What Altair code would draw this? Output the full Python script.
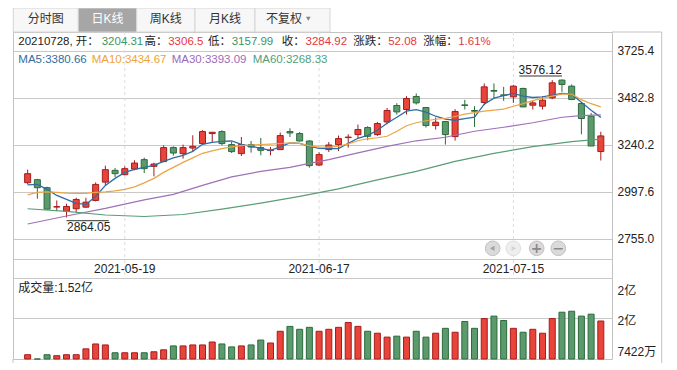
import altair as alt
import pandas as pd

# ---------------- data ----------------
DATES = [
    "2021-04-30", "2021-05-06", "2021-05-07", "2021-05-10", "2021-05-11",
    "2021-05-12", "2021-05-13", "2021-05-14", "2021-05-17", "2021-05-18",
    "2021-05-19", "2021-05-20", "2021-05-21", "2021-05-24", "2021-05-25",
    "2021-05-26", "2021-05-27", "2021-05-28", "2021-05-31", "2021-06-01",
    "2021-06-02", "2021-06-03", "2021-06-04", "2021-06-07", "2021-06-08",
    "2021-06-09", "2021-06-10", "2021-06-11", "2021-06-15", "2021-06-16",
    "2021-06-17", "2021-06-18", "2021-06-21", "2021-06-22", "2021-06-23",
    "2021-06-24", "2021-06-25", "2021-06-28", "2021-06-29", "2021-06-30",
    "2021-07-01", "2021-07-02", "2021-07-05", "2021-07-06", "2021-07-07",
    "2021-07-08", "2021-07-09", "2021-07-12", "2021-07-13", "2021-07-14",
    "2021-07-15", "2021-07-16", "2021-07-19", "2021-07-20", "2021-07-21",
    "2021-07-22", "2021-07-23", "2021-07-26", "2021-07-27", "2021-07-28",
]
OPEN = [
    3043.6, 3059.1, 3017.8, 2918.0, 2896.7, 2909.1, 2917.4, 2952.1, 3046.7, 3107.3,
    3085.0, 3114.0, 3162.6, 3127.9, 3152.3, 3224.7, 3193.6, 3222.6, 3245.4, 3297.1,
    3307.4, 3240.2, 3193.6, 3240.2, 3224.7, 3209.2, 3214.3, 3307.4, 3297.1, 3258.8,
    3134.7, 3214.3, 3240.2, 3276.4, 3291.9, 3328.1, 3291.9, 3357.1, 3441.9, 3421.3,
    3488.5, 3431.6, 3338.5, 3359.2, 3281.6, 3445.1, 3416.1, 3457.5, 3519.5, 3496.8,
    3486.4, 3529.9, 3443.5, 3438.3, 3481.3, 3573.0, 3541.8, 3452.3, 3386.6, 3204.31,
]
HIGH = [
    3110.9, 3063.3, 3022.9, 2952.1, 2935.0, 2966.0, 2966.0, 3045.2, 3131.6, 3119.2,
    3127.9, 3159.0, 3173.0, 3147.1, 3236.6, 3231.4, 3240.2, 3288.3, 3314.2, 3305.0,
    3314.2, 3253.7, 3279.5, 3258.8, 3274.3, 3227.8, 3302.3, 3324.5, 3305.4, 3262.4,
    3200.4, 3253.7, 3286.8, 3293.5, 3343.7, 3334.9, 3357.1, 3429.5, 3453.8, 3490.1,
    3504.0, 3433.0, 3379.9, 3360.8, 3422.8, 3470.9, 3438.3, 3555.8, 3555.8, 3538.2,
    3548.5, 3534.0, 3469.4, 3490.1, 3572.8, 3576.12, 3550.6, 3455.4, 3403.7, 3306.5,
]
LOW = [
    3034.8, 2960.9, 2905.0, 2896.7, 2864.05, 2891.5, 2914.3, 2946.9, 3029.7, 3072.6,
    3081.4, 3107.3, 3093.3, 3076.2, 3150.0, 3183.3, 3167.8, 3205.5, 3244.0, 3248.5,
    3236.6, 3196.7, 3181.2, 3198.8, 3184.8, 3184.8, 3212.0, 3279.5, 3257.0, 3121.2,
    3131.6, 3201.9, 3207.1, 3224.7, 3271.2, 3262.4, 3284.7, 3345.2, 3395.4, 3395.4,
    3447.1, 3328.1, 3317.8, 3240.2, 3260.9, 3421.3, 3331.2, 3443.5, 3478.2, 3465.7,
    3455.4, 3433.0, 3421.3, 3421.3, 3474.5, 3512.3, 3469.4, 3293.5, 3234.0, 3157.99,
]
CLOSE = [
    3090.2, 3017.8, 2907.1, 2920.0, 2921.0, 2957.2, 2943.3, 3034.8, 3110.9, 3090.2,
    3116.0, 3145.0, 3116.0, 3139.8, 3224.7, 3196.7, 3224.7, 3231.4, 3307.4, 3303.8,
    3245.4, 3204.0, 3240.2, 3227.8, 3210.7, 3211.7, 3286.8, 3300.2, 3258.8, 3131.6,
    3188.5, 3238.1, 3271.2, 3279.0, 3317.8, 3283.1, 3348.8, 3416.1, 3408.8, 3478.2,
    3455.4, 3338.5, 3355.6, 3291.9, 3410.9, 3441.9, 3412.5, 3538.2, 3515.9, 3493.7,
    3541.8, 3434.7, 3455.4, 3469.4, 3558.9, 3550.6, 3473.0, 3374.7, 3232.84, 3284.92,
]
VOLUME = [  # 亿
    0.83, 0.7422, 0.83, 0.81, 0.83, 0.83, 0.95, 1.05, 1.03, 0.87,
    0.87, 0.87, 0.87, 0.89, 0.93, 1.01, 1.01, 1.03, 1.03, 1.09,
    1.05, 0.99, 1.01, 1.03, 1.13, 1.07, 1.31, 1.41, 1.35, 1.39,
    1.31, 1.35, 1.39, 1.49, 1.41, 1.31, 1.27, 1.19, 1.21, 1.19,
    1.31, 1.19, 1.27, 1.37, 1.29, 1.51, 1.37, 1.57, 1.62, 1.53,
    1.37, 1.29, 1.35, 1.27, 1.57, 1.70, 1.72, 1.62, 1.66, 1.52,
]
MA5 = [
    3032.2, 3034.8, 3009.0, 2977.9, 2957.2, 2936.5, 2931.4, 2972.8, 3029.7, 3065.9,
    3096.9, 3112.4, 3122.8, 3133.1, 3153.8, 3171.9, 3184.8, 3205.5, 3241.8, 3252.1,
    3257.3, 3258.8, 3241.8, 3231.4, 3221.1, 3210.7, 3228.8, 3248.5, 3246.9, 3231.4,
    3221.1, 3219.5, 3219.5, 3246.9, 3272.8, 3288.3, 3314.2, 3350.4, 3381.4, 3412.5,
    3420.2, 3407.3, 3386.6, 3371.1, 3365.9, 3373.7, 3381.4, 3448.7, 3479.7, 3492.6,
    3504.0, 3490.1, 3483.3, 3486.4, 3495.2, 3504.0, 3500.4, 3459.0, 3417.6, 3380.66,
]
MA10 = [
    2980.5, 2993.4, 2996.0, 2993.4, 2989.8, 2988.3, 2988.3, 2993.4, 2996.0, 3001.2,
    3009.0, 3021.9, 3042.6, 3065.9, 3096.9, 3122.8, 3148.6, 3171.9, 3195.2, 3208.1,
    3219.5, 3228.8, 3235.0, 3238.1, 3240.7, 3242.8, 3245.9, 3249.5, 3246.9, 3234.0,
    3227.3, 3227.3, 3231.4, 3244.3, 3259.9, 3270.2, 3275.4, 3283.1, 3309.0, 3337.5,
    3353.0, 3363.3, 3371.1, 3376.3, 3385.1, 3397.0, 3404.7, 3412.5, 3417.6, 3422.8,
    3438.3, 3451.3, 3466.8, 3479.7, 3490.1, 3500.4, 3500.4, 3472.0, 3451.3, 3434.67,
]
MA30_IDX = [0, 4, 8, 12, 15, 18, 21, 24, 27, 29, 31, 34, 37, 40, 43, 46, 49, 52, 55, 57, 59]
MA30 = [2830.5, 2871.9, 2910.7, 2954.7, 2983.1, 3029.7, 3073.6, 3102.1, 3122.8, 3143.5,
        3163.0, 3197.8, 3231.4, 3259.9, 3278.0, 3309.0, 3329.7, 3353.0, 3381.4, 3389.2, 3393.09]
MA60_IDX = [0, 4, 8, 12, 16, 20, 24, 28, 32, 36, 40, 44, 48, 52, 56, 59]
MA60 = [2909.1, 2895.2, 2877.0, 2869.3, 2879.6, 2907.6, 2938.1, 2972.8, 3011.6, 3058.1,
        3102.1, 3153.8, 3195.2, 3229.9, 3255.7, 3268.33]

PRICE_TICKS = [2755.0, 2997.6, 3240.2, 3482.8, 3725.4]
VOL_TICKS = [0.7422, 1.571, 2.394]
VOL_TICK_LABELS = ["7422万", "2亿", "2亿"]
DATE_TICK_IDX = [10, 30, 50]
TABS = ["分时图", "日K线", "周K线", "月K线", "不复权"]
HEADER_LABELS = ["20210728, 开：", "高：", "低：", "收：", "涨跌：", "涨幅："]
HEADER_VALUES = ["3204.31", "3306.5", "3157.99", "3284.92", "52.08", "1.61%"]
HEADER_VALUE_UP = [False, True, False, True, True, True]
MA_NAMES = ["MA5", "MA10", "MA30", "MA60"]
MA_LAST = ["3380.66", "3434.67", "3393.09", "3268.33"]
VOL_LAST = "1.52亿"
LOW_IDX, LOW_VAL = 4, 2864.05
HIGH_IDX, HIGH_VAL = 55, 3576.12

# ---------------- styling / layout ----------------
W, H = 599, 327
FONT = "Liberation Sans, Noto Sans CJK SC, sans-serif"
RED_FILL, RED_LINE = "#e8443a", "#a31d1d"
GREEN_FILL, GREEN_LINE = "#5b9a6d", "#2c6a3c"
MA_COLORS = ["#2f6da3", "#eba548", "#a070b8", "#5a9e76"]
MA_TEXT_COLORS = ["#2f6da3", "#eea340", "#9d6ab8", "#4f9f7c"]
TXT = "#222222"
GRID = "#c8c8c8"

x_scale = alt.Scale(domain=[-0.992, 59.636], nice=False, zero=False)
p_scale = alt.Scale(domain=[2133.9, 3821.2], nice=False, zero=False)
v_scale = alt.Scale(domain=[0.7422, 7.436], nice=False, zero=False)
# extra horizontal rules (panel separators, volume mid line) placed on the price scale
SEPARATORS = [2343.9, 2550.3, 2648.3]

n = len(DATES)
candles = pd.DataFrame({
    "i": list(range(n)), "date": DATES, "open": OPEN, "high": HIGH,
    "low": LOW, "close": CLOSE, "vol": VOLUME,
})
candles["dir"] = ["up" if c >= o else "down" for o, c in zip(OPEN, CLOSE)]

X = alt.X("i:Q", scale=x_scale, axis=None)
line_scale = alt.Scale(domain=["up", "down"], range=[RED_LINE, GREEN_LINE])
fill_scale = alt.Scale(domain=["up", "down"], range=[RED_FILL, GREEN_FILL])

price_axis = alt.Axis(
    orient="right", values=SEPARATORS + PRICE_TICKS,
    labelExpr=f"datum.value >= {min(PRICE_TICKS) - 1} ? format(datum.value, '.1f') : ''",
    grid=True, gridColor=GRID, gridWidth=1, domain=False, ticks=False,
    labelPadding=5, labelFont=FONT, labelFontSize=12, labelColor=TXT,
    labelOverlap=False, title=None,
)
vol_label_expr = (
    f"datum.value < {VOL_TICKS[1] - 0.01} ? '{VOL_TICK_LABELS[0]}' : "
    f"(datum.value < {VOL_TICKS[2] - 0.01} ? '{VOL_TICK_LABELS[1]}' : '{VOL_TICK_LABELS[2]}')"
)
vol_axis = alt.Axis(
    orient="right", values=VOL_TICKS, labelExpr=vol_label_expr,
    grid=False, domain=False, ticks=False, labelPadding=5,
    labelFont=FONT, labelFontSize=12, labelColor=TXT, labelOverlap=False,
    labelBaseline="middle", title=None,
    labelOffset={
        "condition": [
            {"test": f"datum.value < {VOL_TICKS[1] - 0.01}", "value": -7.3},
            {"test": f"datum.value > {VOL_TICKS[1] + 0.01}", "value": 11.7},
        ],
        "value": 1.7,
    },
)

one = pd.DataFrame({"k": [0]})

# date gridlines + labels
date_df = pd.DataFrame({"i": DATE_TICK_IDX, "label": [DATES[i] for i in DATE_TICK_IDX]})
date_rules = alt.Chart(date_df).mark_rule(color="#dcdcdc", strokeDash=[3, 3], strokeWidth=1).encode(
    x=X, y=alt.value(0), y2=alt.value(246.3))
date_text = alt.Chart(date_df).mark_text(font=FONT, fontSize=12, color=TXT, baseline="middle").encode(
    x=X, y=alt.value(237.3), text="label:N")

wicks = alt.Chart(candles).mark_rule(strokeWidth=1).encode(
    x=X, y=alt.Y("low:Q", scale=p_scale, axis=price_axis), y2="high:Q",
    color=alt.Color("dir:N", scale=line_scale, legend=None))
bodies = alt.Chart(candles).mark_bar(size=6, strokeWidth=1).encode(
    x=X, y=alt.Y("open:Q", scale=p_scale, axis=None), y2="close:Q",
    fill=alt.Fill("dir:N", scale=fill_scale, legend=None),
    stroke=alt.Stroke("dir:N", scale=line_scale, legend=None))
volume = alt.Chart(candles).mark_bar(size=6, strokeWidth=1).encode(
    x=X, y=alt.Y("vol:Q", scale=v_scale, axis=vol_axis), y2=alt.datum(VOL_TICKS[0]),
    fill=alt.Fill("dir:N", scale=fill_scale, legend=None),
    stroke=alt.Stroke("dir:N", scale=line_scale, legend=None))

ma_series = [
    (list(range(n)), MA5), (list(range(n)), MA10), (MA30_IDX, MA30), (MA60_IDX, MA60)
]
ma_layers = []
for (idx, vals), col, w in zip(ma_series, MA_COLORS, [1.3, 1.2, 1.2, 1.2]):
    d = pd.DataFrame({"i": idx, "v": vals})
    ma_layers.append(alt.Chart(d).mark_line(color=col, strokeWidth=w).encode(
        x=X, y=alt.Y("v:Q", scale=p_scale, axis=None), order="i:Q"))

# extreme annotations
low_df = pd.DataFrame({"i": [LOW_IDX], "p": [LOW_VAL], "t": [f"{LOW_VAL:.2f}"],
                       "i2": [LOW_IDX + 4.35], "pl": [LOW_VAL - 16.5]})
high_df = pd.DataFrame({"i": [HIGH_IDX], "p": [HIGH_VAL], "t": [f"{HIGH_VAL:.2f}"],
                        "i2": [HIGH_IDX - 4.39], "pl": [HIGH_VAL + 18.1]})
low_text = alt.Chart(low_df).mark_text(align="left", baseline="middle", dy=9.5, dx=0.5,
                                       font=FONT, fontSize=12, color=TXT).encode(
    x=X, y=alt.Y("p:Q", scale=p_scale, axis=None), text="t:N")
low_line = alt.Chart(low_df).mark_rule(color="#333333", strokeWidth=1).encode(
    x=X, x2="i2:Q", y=alt.Y("pl:Q", scale=p_scale, axis=None))
high_text = alt.Chart(high_df).mark_text(align="right", baseline="middle", dy=-9.5,
                                         font=FONT, fontSize=12, color=TXT).encode(
    x=X, y=alt.Y("p:Q", scale=p_scale, axis=None), text="t:N")
high_line = alt.Chart(high_df).mark_rule(color="#333333", strokeWidth=1).encode(
    x=X, x2="i2:Q", y=alt.Y("pl:Q", scale=p_scale, axis=None))

# header text rows
HDR_FS = 11.5
deco = []
lab_x = [5.3, 131.5, 195.0, 268.7, 340.2, 410.2]
val_x = [88.7, 155.2, 218.7, 292.5, 375.2, 445.2]
for t, xx in zip(HEADER_LABELS, lab_x):
    deco.append(alt.Chart(one).mark_text(text=t, align="left", baseline="middle", font=FONT,
                                         fontSize=HDR_FS, color=TXT).encode(x=alt.value(xx), y=alt.value(9.7)))
for t, xx, up in zip(HEADER_VALUES, val_x, HEADER_VALUE_UP):
    deco.append(alt.Chart(one).mark_text(text=t, align="left", baseline="middle", font=FONT,
                                         fontSize=HDR_FS, color="#e8363c" if up else "#3a955f").encode(
        x=alt.value(xx), y=alt.value(9.7)))
for name, last, col, xx in zip(MA_NAMES, MA_LAST, MA_TEXT_COLORS, [5.3, 78.7, 158.7, 239.7]):
    deco.append(alt.Chart(one).mark_text(text=f"{name}:{last}", align="left", baseline="middle",
                                         font=FONT, fontSize=HDR_FS, color=col).encode(
        x=alt.value(xx), y=alt.value(27.5)))
deco.append(alt.Chart(one).mark_text(text=f"成交量:{VOL_LAST}", align="left", baseline="middle",
                                     font=FONT, fontSize=12, color=TXT).encode(
    x=alt.value(5.3), y=alt.value(256.3)))

# tabs
tab_x0 = [0.3, 65.3, 123.7, 182, 242]
tab_x1 = [65.3, 123.7, 182, 242, 317]
for k, (t, a, b) in enumerate(zip(TABS, tab_x0, tab_x1)):
    sel = (k == 1)
    deco.append(alt.Chart(one).mark_rect(fill="#a6a6a6" if sel else "#f7f7f7",
                                         stroke="#d5d5d5", strokeWidth=1).encode(
        x=alt.value(a), x2=alt.value(b), y=alt.value(-24), y2=alt.value(0)))
    cx = (a + b) / 2 if k < 4 else 271
    deco.append(alt.Chart(one).mark_text(text=t, align="center", baseline="middle", font=FONT,
                                         fontSize=12, color="#ffffff" if sel else "#333333").encode(
        x=alt.value(cx), y=alt.value(-12.8)))
deco.append(alt.Chart(one).mark_point(shape="triangle-down", size=22, filled=True, color="#555555").encode(
    x=alt.value(295.3), y=alt.value(-13.2)))

# navigation buttons
btn_x = [479.7, 500.3, 523.7, 545.3]
for k, bx in enumerate(btn_x):
    dis = (k == 1)
    deco.append(alt.Chart(one).mark_circle(size=215, opacity=1, fill="#eeeeee" if dis else "#dadada",
                                           stroke="#dddddd" if dis else "#c2c2c2", strokeWidth=1).encode(
        x=alt.value(bx), y=alt.value(216.3)))
icon_col = ["#8a8a8a", "#c9c9c9", "#8a8a8a", "#8a8a8a"]
deco.append(alt.Chart(one).mark_point(shape="triangle-left", size=28, filled=True, color=icon_col[0]).encode(
    x=alt.value(btn_x[0] - 0.5), y=alt.value(216.3)))
deco.append(alt.Chart(one).mark_point(shape="triangle-right", size=28, filled=True, color=icon_col[1]).encode(
    x=alt.value(btn_x[1] + 0.5), y=alt.value(216.3)))
for bx, sym in [(btn_x[2], "+"), (btn_x[3], "−")]:
    deco.append(alt.Chart(one).mark_text(text=sym, align="center", baseline="middle", font="DejaVu Sans",
                                         fontSize=14, fontWeight="bold", color="#8a8a8a").encode(
        x=alt.value(bx), y=alt.value(216.8)))

# outer frame pieces
deco.append(alt.Chart(one).mark_rule(color="#c3c3c3", strokeWidth=1).encode(
    x=alt.value(W), x2=alt.value(648.7), y=alt.value(0)))
deco.append(alt.Chart(one).mark_rule(color="#c3c3c3", strokeWidth=1).encode(
    x=alt.value(648.7), y=alt.value(0), y2=alt.value(331)))
deco.append(alt.Chart(one).mark_rule(color="#c3c3c3", strokeWidth=1).encode(
    x=alt.value(0), y=alt.value(H), y2=alt.value(331)))

chart = alt.layer(
    date_rules, wicks, bodies, *ma_layers, volume,
    low_line, low_text, high_line, high_text, date_text, *deco,
).resolve_scale(
    y="independent", color="independent", fill="independent", stroke="independent"
).properties(
    width=W, height=H,
    autosize=alt.AutoSizeParams(type="none"),
    padding={"left": 5, "top": 24, "right": 52, "bottom": 6},
    background="white",
).configure_view(stroke="#c3c3c3", strokeWidth=1)

chart.save("out.html", embed_options={"renderer": "svg", "actions": False})
